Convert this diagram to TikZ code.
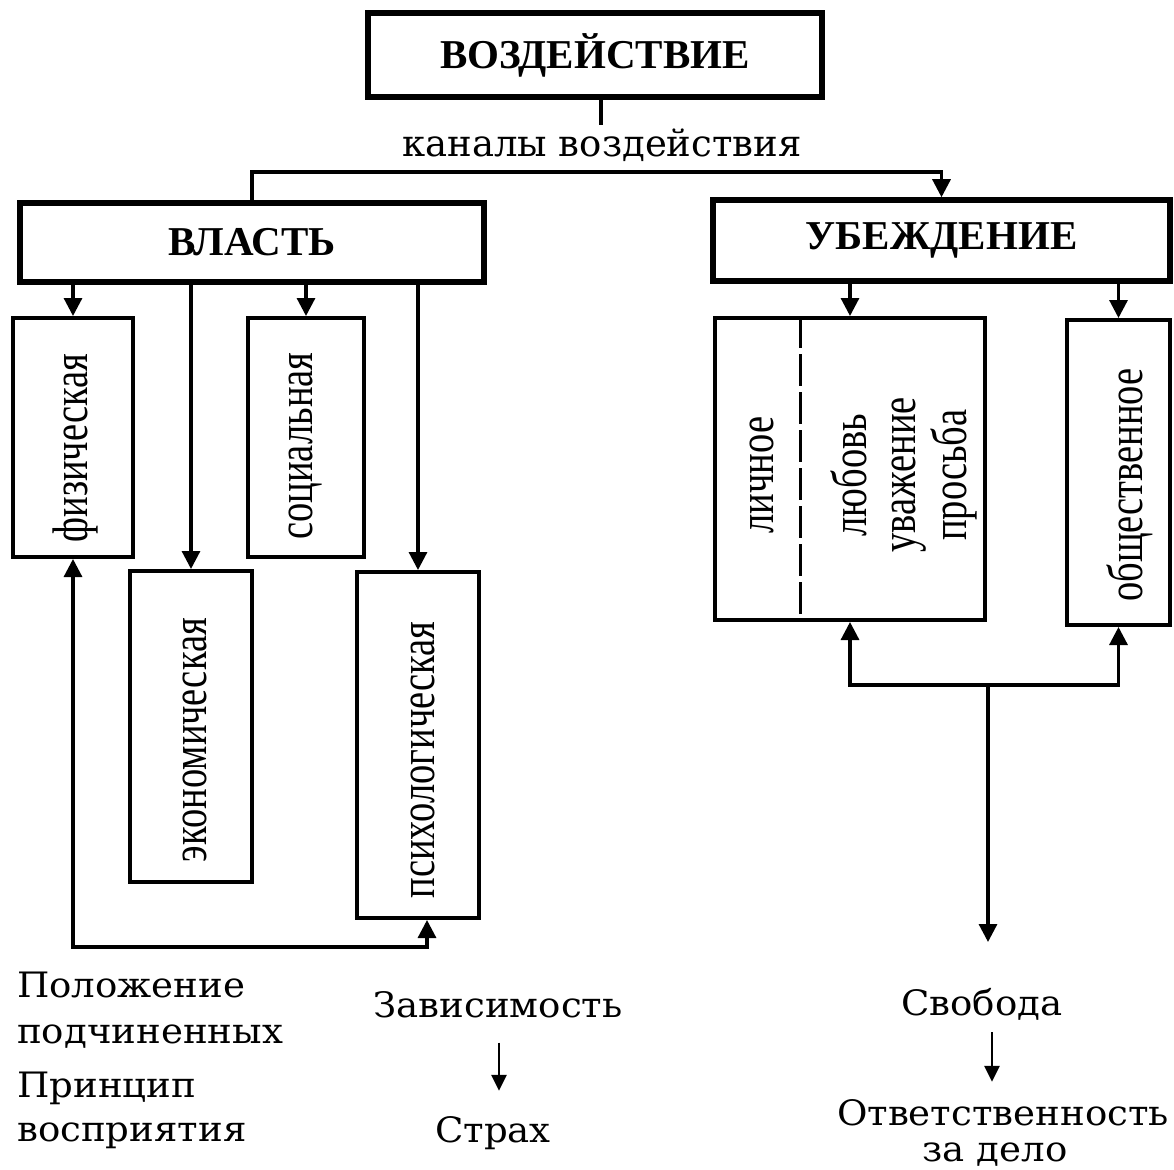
\documentclass[tikz,border=0pt]{standalone}
\usepackage{fontspec}
\setmainfont{Liberation Serif}
\newfontfamily\wideserif{DejaVu Serif}
\usetikzlibrary{arrows.meta,calc}
% narrow the vertical captions along their reading direction
\newcommand{\condense}[1]{\scalebox{0.77}[1]{#1}}
% widen the captions under the chart
\newcommand{\broaden}[1]{\scalebox{1.06}[1]{#1}}

\begin{document}
\begin{tikzpicture}[x=1pt,y=-1pt,
  every node/.style={inner sep=0pt},
  headbox/.style={draw, line width=5.5pt, font=\bfseries\fontsize{41}{48}\selectfont},
  subbox/.style={draw, line width=4pt},
  vtext/.style={font=\fontsize{50}{49}\selectfont, rotate=90},
  lowtext/.style={font=\wideserif\fontsize{35}{42}\selectfont},
  wire/.style={line width=3.2pt},
  tip/.style={-{Triangle[length=18pt,width=18pt]}},
  tips/.style={{Triangle[length=18pt,width=18pt]}-{Triangle[length=18pt,width=18pt]}},
]
\useasboundingbox (0,0) rectangle (1174,1169);

% --- head and the two channels ---
\node[headbox, minimum width=454pt, minimum height=84pt] (top) at (595,55) {ВОЗДЕЙСТВИЕ};
\node[font=\wideserif\fontsize{37}{42}\selectfont, anchor=base] (kan) at (602,157) {каналы воздействия};
\coordinate (stemEnd) at (601,125);
\draw[wire] (top.south -| stemEnd) -- (stemEnd);

\node[headbox, minimum width=464pt, minimum height=79pt] (vlast) at (252,242.5) {ВЛАСТЬ};
\node[headbox, minimum width=457pt, minimum height=81pt] (ubezh) at (941.5,240.5) {УБЕЖДЕНИЕ};

\coordinate (hl) at (0,172);
\draw[wire,tip] (vlast.north) |- (ubezh.north |- hl) -- (ubezh.north);

% --- kinds of power ---
\node[subbox, minimum width=120pt, minimum height=239pt] (fiz) at (73,437.5) {};
\node[subbox, minimum width=116pt, minimum height=239pt] (soc) at (306,437.5) {};
\node[subbox, minimum width=122pt, minimum height=311pt] (eko) at (191,726.5) {};
\node[subbox, minimum width=122pt, minimum height=346pt] (psy) at (418,745) {};

\node[vtext] (fizt) at (75,448) {\condense{физическая}};
\node[vtext] (soct) at (306,446) {\condense{социальная}};
\node[vtext] (ekot) at (195,740) {\condense{экономическая}};
\node[vtext] (psyt) at (423,760) {\condense{психологическая}};

\draw[wire,tip] (vlast.south -| fiz.north) -- (fiz.north);
\draw[wire,tip] (vlast.south -| eko.north) -- (eko.north);
\draw[wire,tip] (vlast.south -| soc.north) -- (soc.north);
\draw[wire,tip] (vlast.south -| psy.north) -- (psy.north);

% feedback loop under the power boxes
\coordinate (lfbL) at (73,947);
\coordinate (lfbR) at (427,947);
\draw[wire,tips] (fiz.south) -- (lfbL) -- (lfbR) -- (lfbR |- psy.south);

% --- kinds of persuasion ---
\node[subbox, minimum width=270pt, minimum height=302pt] (lich) at (850,469) {};
\node[subbox, minimum width=103pt, minimum height=305pt] (obsh) at (1118.5,472.5) {};
\draw[line width=3pt, dash pattern=on 32pt off 6pt] (lich.north -| 800,0) -- (lich.south -| 800,0);

\node[vtext] (licht) at (762,475) {\condense{личное}};
\node[vtext] (lichk) at (906,475) {\condense{\begin{tabular}{@{}c@{}}любовь\\уважение\\просьба\end{tabular}}};
\node[vtext] (obsht) at (1130,485) {\condense{общественное}};

\draw[wire,tip] (ubezh.south -| lich.north) -- (lich.north);
\draw[wire,tip] (ubezh.south -| obsh.north) -- (obsh.north);

\coordinate (rfb) at (988,685);
\coordinate (rdown) at (988,942);
\draw[wire,tips] (lich.south) -- (lich.south |- rfb) -- (obsh.south |- rfb) -- (obsh.south);
\draw[wire,tip] (rfb) -- (rdown);

% --- outcomes ---
\node[lowtext, anchor=base west] (pol1) at (17,997) {\broaden{Положение}};
\node[lowtext, anchor=base west] (pol2) at (17,1043) {\broaden{подчиненных}};
\node[lowtext, anchor=base west] (pr1) at (17,1097) {\broaden{Принцип}};
\node[lowtext, anchor=base west] (pr2) at (17,1141) {\broaden{восприятия}};

\node[lowtext, anchor=base] (zav) at (498,1017) {\broaden{Зависимость}};
\node[lowtext, anchor=base] (strah) at (493,1142) {\broaden{Страх}};
\draw[line width=2.5pt,-{Triangle[length=16pt,width=15pt]},shorten <=25pt,shorten >=25pt]
  ([xshift=1pt]zav.south) -- ([xshift=1pt]zav.south |- strah.north);

\node[lowtext, anchor=base] (svob) at (982,1015) {\broaden{Свобода}};
\node[lowtext, anchor=base] (otv) at (1003,1125) {\broaden{Ответственность}};
\node[lowtext, anchor=base] (delo) at (995,1161) {\broaden{за дело}};
\draw[line width=2.5pt,-{Triangle[length=16pt,width=15pt]},shorten <=12pt,shorten >=17pt]
  ([xshift=10pt]svob.south) -- ([xshift=10pt]svob.south |- otv.north);
\end{tikzpicture}
\end{document}
